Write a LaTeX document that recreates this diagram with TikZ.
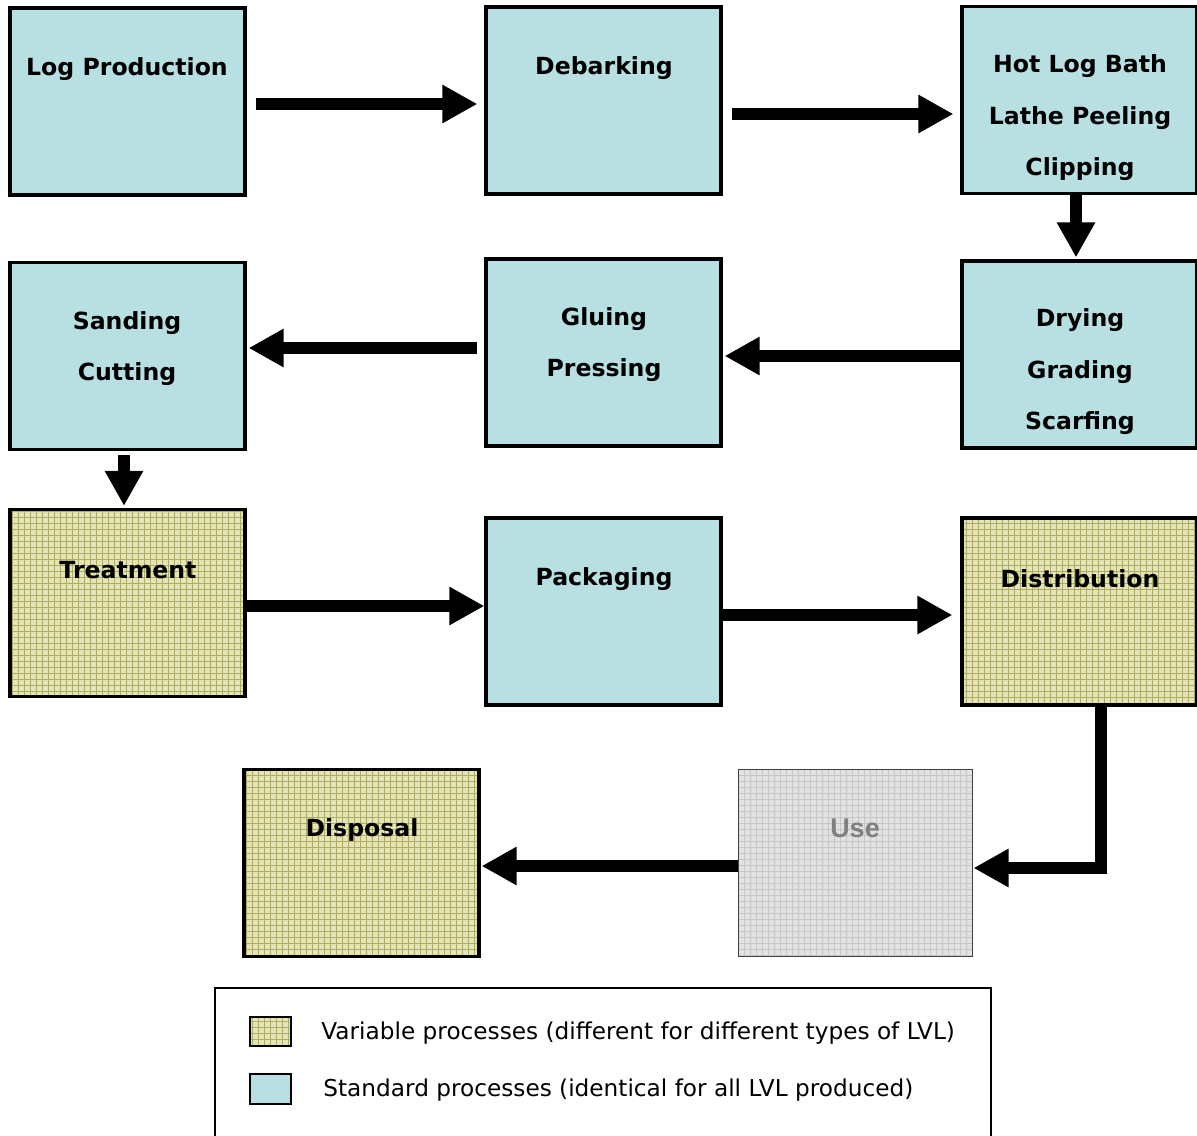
\documentclass[tikz,border=0pt]{standalone}
\usepackage{fontspec}
\setmainfont{DejaVu Sans}
\newfontfamily\arialfnt{Liberation Sans}
\usetikzlibrary{arrows.meta,calc,patterns}
\definecolor{stdblue}{RGB}{184,224,227}
\definecolor{varbase}{RGB}{228,228,184}
\definecolor{varline}{RGB}{172,172,100}
\definecolor{usebase}{RGB}{226,226,226}
\definecolor{useline}{RGB}{198,198,198}
\definecolor{usetext}{RGB}{128,128,128}
\tikzset{
  procbox/.style={draw=black, line width=1.6pt, fill=stdblue, minimum width=117.5pt, minimum height=93.5pt, inner sep=0pt},
  varbox/.style={draw=black, line width=1.6pt, minimum width=117.5pt, minimum height=93.5pt, inner sep=0pt, preaction={fill=varbase}, preaction={pattern=grid, pattern color=varline}},
  usebox/.style={draw=black!75, line width=0.5pt, minimum width=117pt, minimum height=93.5pt, inner sep=0pt, preaction={fill=usebase}, preaction={pattern=grid, pattern color=useline}},
  lbl/.style={font={\bfseries\fontsize{11.8}{25.75}\selectfont}, align=center, inner sep=0pt},
  legtext/.style={font={\fontsize{11.6}{14}\selectfont}, anchor=west, inner sep=0pt},
  arr/.style={line width=5.6pt, -{Triangle[length=17.5pt,width=18pt]}},
}
\begin{document}
\begin{tikzpicture}[x=0.5pt,y=-0.5pt]
\useasboundingbox (0,0) rectangle (1197,1135);
% boxes
\node[procbox] (log)  at (127.5,101.5) {};
\node[procbox] (deb)  at (603.5,100.5) {};
\node[procbox] (hot)  at (1079.5,100) {};
\node[procbox] (dry)  at (1079.5,354.5) {};
\node[procbox] (glu)  at (603.5,352.5) {};
\node[procbox] (san)  at (127.5,356) {};
\node[varbox]  (tre)  at (127.5,603) {};
\node[procbox] (pac)  at (603.5,611.5) {};
\node[varbox]  (dis)  at (1079.5,611.5) {};
\node[varbox]  (dsp)  at (361.5,863) {};
\node[usebox]  (use)  at (855,862.5) {};
% labels
\node[lbl] (logt) at (127,69) {Log Production};
\node[lbl] (debt) at (604,68) {Debarking};
\node[lbl] (hott) at (1080,118) {Hot Log Bath\\Lathe Peeling\\Clipping};
\node[lbl] (dryt) at (1080,372) {Drying\\Grading\\Scarfing};
\node[lbl] (glut) at (604,344.5) {Gluing\\Pressing};
\node[lbl] (sant) at (127,348.5) {Sanding\\Cutting};
\node[lbl] (tret) at (128,570) {Treatment};
\node[lbl] (pact) at (604,579) {Packaging};
\node[lbl] (dist) at (1080,579) {Distribution};
\node[lbl] (dspt) at (362,830) {Disposal};
\node[font={\arialfnt\bfseries\fontsize{13.5}{16}\selectfont}, text=usetext, inner sep=0pt] (uset) at (855,828) {Use};
% connectors
\draw[arr] ($(log.east)+(9,2.5)$) -- ($(deb.west)+(-7,3.5)$);
\draw[arr] ($(deb.east)+(9,13.5)$) -- ($(hot.west)+(-7,14)$);
\draw[arr] ($(hot.south)+(-3.5,0)$) -- ($(dry.north)+(-3.5,-2)$);
\draw[arr] ($(dry.west)+(0,1.5)$) -- ($(glu.east)+(2,3.5)$);
\draw[arr] ($(glu.west)+(-7,-4.5)$) -- ($(san.east)+(2,-8)$);
\draw[arr] ($(san.south)+(-3.5,4)$) -- ($(tre.north)+(-3.5,-2)$);
\draw[arr] ($(tre.east)+(0,3)$) -- ($(pac.west)+(0,-5.5)$);
\draw[arr] ($(pac.east)+(0,3.5)$) -- ($(dis.west)+(-8,3.5)$);
\draw[arr] ($(dis.south)+(21.5,0)$) |- ($(use.east)+(1,5.5)$);
\draw[arr] ($(use.west)+(0,3.5)$) -- ($(dsp.east)+(1,3)$);
% legend
\coordinate (lgbl) at (215,1140);
\coordinate (lgbr) at (991,1140);
\draw[line width=1pt] (lgbl) -- (215,988) -- (991,988) -- (lgbr);
\node[draw=black, line width=1.3pt, minimum width=20.5pt, minimum height=14.5pt, inner sep=0pt, preaction={fill=varbase}, preaction={pattern=grid, pattern color=varline}] (legvar) at (270.5,1031.5) {};
\node[draw=black, line width=1.3pt, fill=stdblue, minimum width=20.5pt, minimum height=15pt, inner sep=0pt] (legstd) at (270.5,1089) {};
\node[legtext] (legvart) at (321,1033) {Variable processes (different for different types of LVL)};
\node[legtext] (legstdt) at (323,1090) {Standard processes (identical for all LVL produced)};
\end{tikzpicture}
\end{document}
